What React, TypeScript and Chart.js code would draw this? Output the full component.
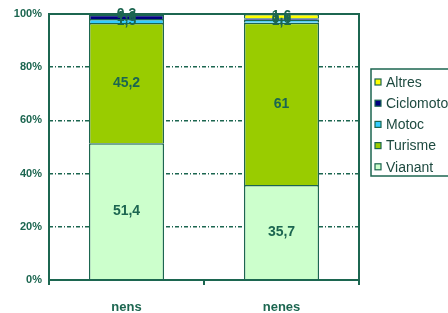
import React, { useEffect, useRef } from "react";
import { Chart, registerables } from "chart.js";

Chart.register(...registerables);

const categories = ["nens", "nenes"];
const seriesNames = ["Vianant", "Turisme", "Motoc", "Ciclomotor", "Altres"];
const vianant = [51.4, 35.7];
const turisme = [45.2, 61];
const motoc = [1.5, 1.1];
const ciclomotor = [1.6, 0.6];
const altres = [0.3, 1.6];
const yTicks = [0, 20, 40, 60, 80, 100];

const colors = ["#ccffcc", "#99cc00", "#33ccff", "#000080", "#ffff00"];
const dark = "#1c6650";

export default function App() {
  const ref = useRef<HTMLCanvasElement>(null);
  useEffect(() => {
    document.body.style.margin = "0";
    const values = [vianant, turisme, motoc, ciclomotor, altres];
    const labelsPlugin = {
      id: "labelsAndFrame",
      afterDatasetsDraw(chart: any) {
        const ctx = chart.ctx;
        const a = chart.chartArea;
        ctx.save();
        ctx.strokeStyle = dark;
        ctx.lineWidth = 2;
        ctx.strokeRect(a.left, a.top, a.right - a.left, a.bottom - a.top);
        ctx.fillStyle = dark;
        ctx.font = "bold 14px 'Liberation Sans', Arial, sans-serif";
        ctx.textAlign = "center";
        ctx.textBaseline = "middle";
        chart.data.datasets.forEach((ds: any, i: number) => {
          const meta = chart.getDatasetMeta(i);
          meta.data.forEach((bar: any, j: number) => {
            const v = ds.data[j];
            const y = (bar.y + bar.base) / 2;
            ctx.fillText(String(v).replace(".", ","), bar.x, y);
          });
        });
        // legend
        const lx = 371, ly = 69, lw = 90, lh = 107;
        ctx.lineWidth = 1.5;
        ctx.strokeStyle = dark;
        ctx.strokeRect(lx, ly, lw, lh);
        ctx.font = "14px 'Liberation Sans', Arial, sans-serif";
        ctx.textAlign = "left";
        const n = chart.data.datasets.length;
        for (let k = 0; k < n; k++) {
          const idx = n - 1 - k;
          const ds = chart.data.datasets[idx];
          const cy = 82 + k * 21.2;
          ctx.fillStyle = ds.backgroundColor;
          ctx.fillRect(375, cy - 3, 6, 6);
          ctx.strokeStyle = dark;
          ctx.lineWidth = 1.2;
          ctx.strokeRect(375, cy - 3, 6, 6);
          ctx.fillStyle = "#1e4a40";
          ctx.fillText(ds.label, 386, cy + 1);
        }
        ctx.restore();
      },
    };
    const chart = new Chart(ref.current!, {
      type: "bar",
      data: {
        labels: categories,
        datasets: seriesNames.map((name, i) => ({
          label: name,
          data: values[i],
          backgroundColor: colors[i],
          borderColor: dark,
          borderWidth: 1.5,
          barPercentage: 1,
          categoryPercentage: 0.485,
        })),
      },
      options: {
        animation: false,
        responsive: false,
        maintainAspectRatio: false,
        layout: { padding: { top: 14, right: 89, bottom: 0, left: 0 } },
        plugins: { legend: { display: false }, tooltip: { enabled: false } },
        scales: {
          x: {
            stacked: true,
            grid: {
              display: true,
              drawOnChartArea: false,
              drawTicks: true,
              tickLength: 5,
              color: dark,
              lineWidth: 2,
              offset: true,
            },
            border: { display: false },
            ticks: {
              color: dark,
              padding: 15,
              font: { family: "'Liberation Sans', Arial, sans-serif", size: 13, weight: "bold" },
            },
            afterFit(scale: any) {
              scale.height = 33;
            },
          },
          y: {
            stacked: true,
            min: 0,
            max: 100,
            afterBuildTicks(scale: any) {
              scale.ticks = yTicks.map((v) => ({ value: v }));
            },
            grid: {
              drawTicks: false,
              color: (c: any) => (c.tick && (c.tick.value === 0 || c.tick.value === 100) ? "rgba(0,0,0,0)" : dark),
              lineWidth: 1.5,
            },
            border: { display: false, dash: [4, 2, 1, 2] },
            ticks: {
              color: dark,
              padding: 7,
              callback: (v: any) => v + "%",
              font: { family: "'Liberation Sans', Arial, sans-serif", size: 11, weight: "bold" },
            },
            afterFit(scale: any) {
              scale.width = 49;
            },
          },
        },
      },
      plugins: [labelsPlugin],
    });
    return () => chart.destroy();
  }, []);
  return (
    <div style={{ position: "absolute", left: 0, top: 0, width: 448, height: 313 }}>
      <canvas ref={ref} width={448} height={313} style={{ width: 448, height: 313 }} />
    </div>
  );
}
